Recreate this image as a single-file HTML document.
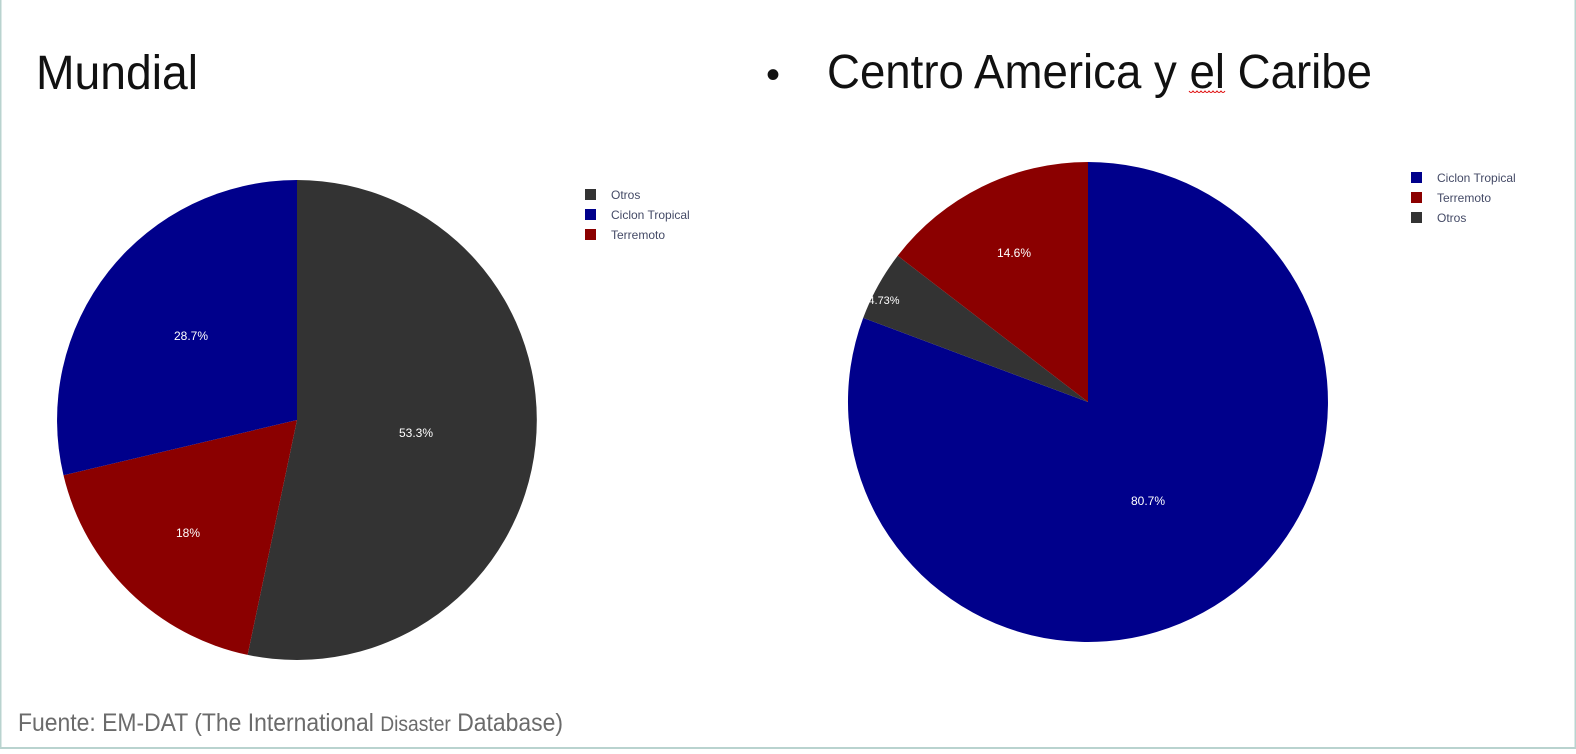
<!DOCTYPE html>
<html><head><meta charset="utf-8"><style>
html,body{margin:0;padding:0;background:#fff;}
body{width:1576px;height:749px;overflow:hidden;}
</style></head><body>
<svg width="1576" height="749" xmlns="http://www.w3.org/2000/svg">
<rect x="0.5" y="-1" width="1575" height="749" fill="#fff" stroke="#b9d3cf" stroke-width="2"/>
<g font-family="'Liberation Sans',sans-serif" fill="#111">
<text x="36" y="89" font-size="48" textLength="162" lengthAdjust="spacingAndGlyphs">Mundial</text>
<text x="766" y="88" font-size="40">•</text>
<text x="827" y="88" font-size="48" textLength="545" lengthAdjust="spacingAndGlyphs">Centro America y el Caribe</text>
<text x="18" y="731" font-size="25" fill="#6b6b6b" textLength="545" lengthAdjust="spacingAndGlyphs">Fuente: EM-DAT (The International <tspan font-size="21">Disaster</tspan> Database)</text>
</g>
<path d="M1189,91 q2,3 4,0 q2,3 4,0 q2,3 4,0 q2,3 4,0 q2,3 4,0 q2,3 4,0 q2,3 4,0 q2,3 4,0 q2,3 4,0" stroke="#d00" fill="none" stroke-width="1"/>
<path d="M297,420 L297,180 A240,240 0 1 1 247.6,654.9 Z" fill="#333333"/>
<path d="M297,420 L247.6,654.9 A240,240 0 0 1 63.5,475.3 Z" fill="#8b0000"/>
<path d="M297,420 L63.5,475.3 A240,240 0 0 1 297,180 Z" fill="#00008b"/>
<path d="M1088,402 L1088,162 A240,240 0 1 1 863.2,317.9 Z" fill="#00008b"/>
<path d="M1088,402 L863.2,317.9 A240,240 0 0 1 897.7,255.8 Z" fill="#333333"/>
<path d="M1088,402 L897.7,255.8 A240,240 0 0 1 1088,162 Z" fill="#8b0000"/>
<g font-family="'Liberation Sans',sans-serif" font-size="12" fill="#fff" text-anchor="middle">
<text x="416" y="437">53.3%</text>
<text x="191" y="340">28.7%</text>
<text x="188" y="537">18%</text>
<text x="1148" y="505">80.7%</text>
<text x="1014" y="257">14.6%</text>
<text x="884" y="304" font-size="11">4.73%</text>
</g>
<g font-family="'Liberation Sans',sans-serif" font-size="12" fill="#444a66">
<rect x="585" y="189" width="11" height="11" fill="#333"/><text x="611" y="199">Otros</text>
<rect x="585" y="209" width="11" height="11" fill="#00008b"/><text x="611" y="219">Ciclon Tropical</text>
<rect x="585" y="229" width="11" height="11" fill="#8b0000"/><text x="611" y="239">Terremoto</text>
<rect x="1411" y="172" width="11" height="11" fill="#00008b"/><text x="1437" y="182">Ciclon Tropical</text>
<rect x="1411" y="192" width="11" height="11" fill="#8b0000"/><text x="1437" y="202">Terremoto</text>
<rect x="1411" y="212" width="11" height="11" fill="#333"/><text x="1437" y="222">Otros</text>
</g>
</svg>
</body></html>
